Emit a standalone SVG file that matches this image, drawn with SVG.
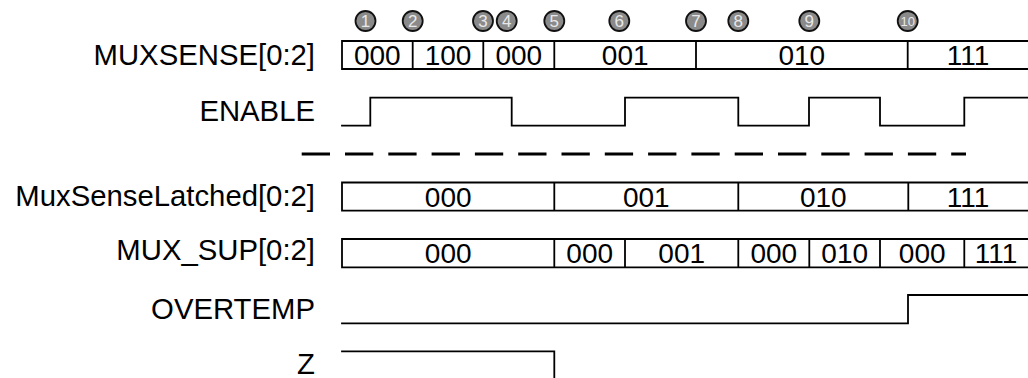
<svg xmlns="http://www.w3.org/2000/svg" width="1028" height="378" viewBox="0 0 1028 378">
<style>
.lbl{font-family:"Liberation Sans",Arial,sans-serif;font-size:29.3px;fill:#000;text-anchor:end}
.val{font-family:"Liberation Sans",Arial,sans-serif;font-size:28px;fill:#000;text-anchor:middle}
.ln{fill:none;stroke:#000;stroke-width:1.8;stroke-linecap:square}
.mk circle{fill:#8a8a8a;stroke:#111;stroke-width:1.8}
.mk text{font-family:"Liberation Sans",Arial,sans-serif;font-size:17px;fill:#e8e8e8;text-anchor:middle}
</style>
<rect width="1028" height="378" fill="#fff"/>
<g id="markers" class="mk">
<circle cx="365.5" cy="21" r="10"/><text x="365.5" y="27">1</text>
<circle cx="412.7" cy="21" r="10"/><text x="412.7" y="27">2</text>
<circle cx="483" cy="21" r="10"/><text x="483" y="27">3</text>
<circle cx="506.7" cy="21" r="10"/><text x="506.7" y="27">4</text>
<circle cx="554.3" cy="21" r="10"/><text x="554.3" y="27">5</text>
<circle cx="619.3" cy="21" r="10"/><text x="619.3" y="27">6</text>
<circle cx="696" cy="21" r="10"/><text x="696" y="27">7</text>
<circle cx="738.3" cy="21" r="10"/><text x="738.3" y="27">8</text>
<circle cx="809.3" cy="21" r="10"/><text x="809.3" y="27">9</text>
<circle cx="907.7" cy="21" r="10"/><text x="907.7" y="26" style="font-size:13px">10</text>
</g>
<g id="muxsense">
<text class="lbl" x="315" y="64.5">MUXSENSE[0:2]</text>
<path class="ln" d="M1028 41H342V69H1028M412.7 41V69M483.3 41V69M554.3 41V69M696 41V69M907.7 41V69"/>
<text class="val" x="377.3" y="65">000</text>
<text class="val" x="448" y="65">100</text>
<text class="val" x="518.8" y="65">000</text>
<text class="val" x="625.2" y="65">001</text>
<text class="val" x="801.8" y="65">010</text>
<text class="val" x="968" y="65">111</text>
</g>
<g id="enable">
<text class="lbl" x="315" y="121">ENABLE</text>
<path class="ln" d="M342 125.7H370.3V97.7H511.7V125.7H625V97.7H738.3V125.7H809V97.7H880V125.7H964.3V97.7H1028"/>
</g>
<g id="separator">
<line x1="301.7" y1="154" x2="966" y2="154" stroke="#000" stroke-width="3" stroke-dasharray="28.3 15"/>
</g>
<g id="muxsenselatched">
<text class="lbl" x="315" y="205.5">MuxSenseLatched[0:2]</text>
<path class="ln" d="M1028 182.5H342V210.7H1028M554.3 182.5V210.7M738.3 182.5V210.7M908.3 182.5V210.7"/>
<text class="val" x="448.2" y="206.5">000</text>
<text class="val" x="646.3" y="206.5">001</text>
<text class="val" x="823.3" y="206.5">010</text>
<text class="val" x="968" y="206.5">111</text>
</g>
<g id="mux_sup">
<text class="lbl" x="315" y="260">MUX_SUP[0:2]</text>
<path class="ln" d="M1028 239H342V267.3H1028M554.3 239V267.3M625 239V267.3M738.3 239V267.3M809.3 239V267.3M880 239V267.3M964.3 239V267.3"/>
<text class="val" x="448.2" y="263">000</text>
<text class="val" x="589.7" y="263">000</text>
<text class="val" x="681.7" y="263">001</text>
<text class="val" x="773.8" y="263">000</text>
<text class="val" x="844.7" y="263">010</text>
<text class="val" x="922.2" y="263">000</text>
<text class="val" x="996" y="263">111</text>
</g>
<g id="overtemp">
<text class="lbl" x="315" y="318.5">OVERTEMP</text>
<path class="ln" d="M342 323.3H908V295H1028"/>
</g>
<g id="z">
<text class="lbl" x="315" y="373.5">Z</text>
<path class="ln" d="M342 351.3H554.3V380"/>
</g>
</svg>
